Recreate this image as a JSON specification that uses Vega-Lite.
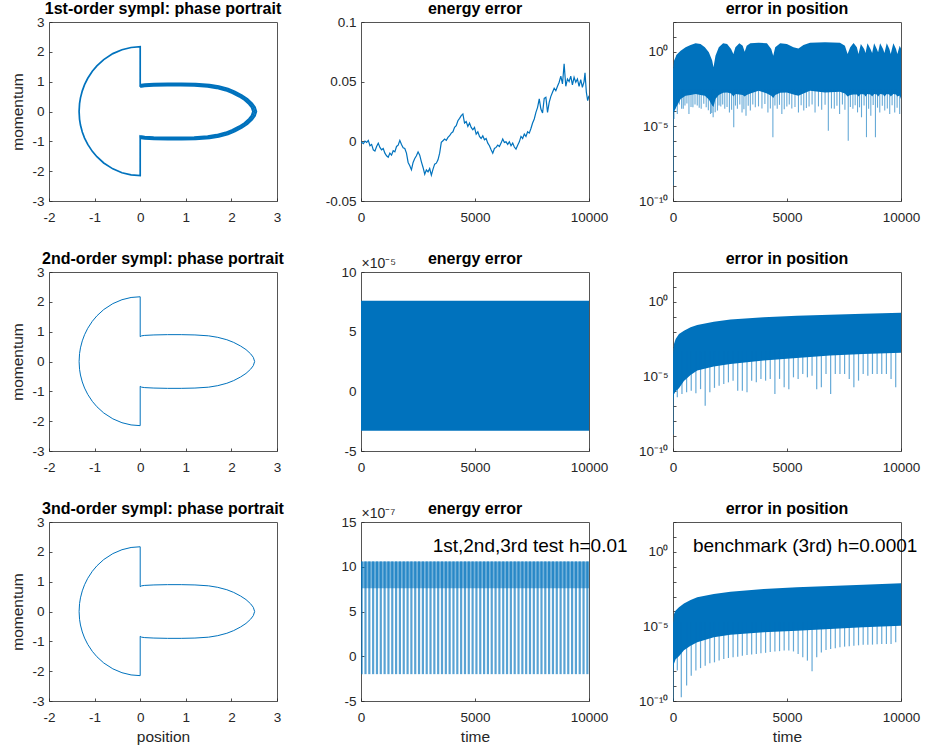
{
"$schema": "https://vega.github.io/schema/vega-lite/v6.json",
"background": "white",
"padding": {"left": 10, "top": 0, "right": 0, "bottom": 0},
"config": {
  "font": "Liberation Sans",
  "view": {"stroke": "#555555", "strokeWidth": 1},
  "axis": {"grid": false, "domain": false, "ticks": true, "tickSize": -3, "tickColor": "#262626", "tickWidth": 0.8,
           "labelColor": "#262626", "labelFontSize": 13.5, "labelFont": "Liberation Sans", "labelPadding": 8,
           "labelFlush": false, "labelOverlap": false, "labelBound": false,
           "titleColor": "#262626", "titleFontSize": 15.5, "titleFontWeight": "normal", "titleFont": "Liberation Sans", "titlePadding": 6},
  "axisX": {"labelPadding": 12},
  "title": {"fontSize": 16, "fontWeight": "bold", "color": "#000000", "offset": -2, "font": "Liberation Sans", "anchor": "middle"}
},
"datasets": {
  "orbit": [{"i":0,"q":0,"p":0.83},{"i":1,"q":0.03,"p":0.86},{"i":2,"q":0.1,"p":0.875},{"i":3,"q":0.3,"p":0.89},{"i":4,"q":0.6,"p":0.9},{"i":5,"q":0.9,"p":0.9},{"i":6,"q":1.2,"p":0.89},{"i":7,"q":1.5,"p":0.86},{"i":8,"q":1.7,"p":0.81},{"i":9,"q":1.9,"p":0.73},{"i":10,"q":2.05,"p":0.64},{"i":11,"q":2.2,"p":0.52},{"i":12,"q":2.32,"p":0.4},{"i":13,"q":2.42,"p":0.26},{"i":14,"q":2.48,"p":0.14},{"i":15,"q":2.51,"p":0},{"i":16,"q":2.48,"p":-0.14},{"i":17,"q":2.42,"p":-0.26},{"i":18,"q":2.32,"p":-0.4},{"i":19,"q":2.2,"p":-0.52},{"i":20,"q":2.05,"p":-0.64},{"i":21,"q":1.9,"p":-0.73},{"i":22,"q":1.7,"p":-0.81},{"i":23,"q":1.5,"p":-0.86},{"i":24,"q":1.2,"p":-0.89},{"i":25,"q":0.9,"p":-0.9},{"i":26,"q":0.6,"p":-0.9},{"i":27,"q":0.3,"p":-0.89},{"i":28,"q":0.1,"p":-0.875},{"i":29,"q":0.03,"p":-0.86},{"i":30,"q":0,"p":-0.83},{"i":31,"q":0,"p":-2.15},{"i":32,"q":-0.2,"p":-2.126},{"i":33,"q":-0.4,"p":-2.052},{"i":34,"q":-0.6,"p":-1.922},{"i":35,"q":-0.8,"p":-1.725},{"i":36,"q":-0.95,"p":-1.516},{"i":37,"q":-1.05,"p":-1.336},{"i":38,"q":-1.15,"p":-1.104},{"i":39,"q":-1.22,"p":-0.89},{"i":40,"q":-1.27,"p":-0.686},{"i":41,"q":-1.31,"p":-0.453},{"i":42,"q":-1.33,"p":-0.263},{"i":43,"q":-1.34,"p":0},{"i":44,"q":-1.33,"p":0.265},{"i":45,"q":-1.31,"p":0.457},{"i":46,"q":-1.27,"p":0.692},{"i":47,"q":-1.22,"p":0.898},{"i":48,"q":-1.15,"p":1.114},{"i":49,"q":-1.05,"p":1.348},{"i":50,"q":-0.95,"p":1.53},{"i":51,"q":-0.8,"p":1.741},{"i":52,"q":-0.6,"p":1.94},{"i":53,"q":-0.4,"p":2.071},{"i":54,"q":-0.2,"p":2.146},{"i":55,"q":0,"p":2.17},{"i":56,"q":0,"p":0.83}],
  "drift": [{"loop":"A","i":0,"q":0,"p":0.83},{"loop":"A","i":1,"q":0.03,"p":0.832},{"loop":"A","i":2,"q":0.099,"p":0.846},{"loop":"A","i":3,"q":0.296,"p":0.861},{"loop":"A","i":4,"q":0.592,"p":0.87},{"loop":"A","i":5,"q":0.887,"p":0.87},{"loop":"A","i":6,"q":1.183,"p":0.861},{"loop":"A","i":7,"q":1.479,"p":0.832},{"loop":"A","i":8,"q":1.676,"p":0.783},{"loop":"A","i":9,"q":1.873,"p":0.706},{"loop":"A","i":10,"q":2.021,"p":0.619},{"loop":"A","i":11,"q":2.169,"p":0.503},{"loop":"A","i":12,"q":2.288,"p":0.387},{"loop":"A","i":13,"q":2.386,"p":0.251},{"loop":"A","i":14,"q":2.445,"p":0.135},{"loop":"A","i":15,"q":2.475,"p":0},{"loop":"A","i":16,"q":2.445,"p":-0.135},{"loop":"A","i":17,"q":2.386,"p":-0.251},{"loop":"A","i":18,"q":2.288,"p":-0.387},{"loop":"A","i":19,"q":2.169,"p":-0.503},{"loop":"A","i":20,"q":2.021,"p":-0.619},{"loop":"A","i":21,"q":1.873,"p":-0.706},{"loop":"A","i":22,"q":1.676,"p":-0.783},{"loop":"A","i":23,"q":1.479,"p":-0.832},{"loop":"A","i":24,"q":1.183,"p":-0.861},{"loop":"A","i":25,"q":0.887,"p":-0.87},{"loop":"A","i":26,"q":0.592,"p":-0.87},{"loop":"A","i":27,"q":0.296,"p":-0.861},{"loop":"A","i":28,"q":0.099,"p":-0.846},{"loop":"A","i":29,"q":0.03,"p":-0.832},{"loop":"A","i":30,"q":0,"p":-0.83},
    {"loop":"C","i":0,"q":0,"p":0.83},{"loop":"C","i":1,"q":0.03,"p":0.898},{"loop":"C","i":2,"q":0.101,"p":0.914},{"loop":"C","i":3,"q":0.304,"p":0.929},{"loop":"C","i":4,"q":0.608,"p":0.94},{"loop":"C","i":5,"q":0.913,"p":0.94},{"loop":"C","i":6,"q":1.217,"p":0.929},{"loop":"C","i":7,"q":1.521,"p":0.898},{"loop":"C","i":8,"q":1.724,"p":0.846},{"loop":"C","i":9,"q":1.927,"p":0.762},{"loop":"C","i":10,"q":2.079,"p":0.668},{"loop":"C","i":11,"q":2.231,"p":0.543},{"loop":"C","i":12,"q":2.352,"p":0.418},{"loop":"C","i":13,"q":2.454,"p":0.271},{"loop":"C","i":14,"q":2.515,"p":0.146},{"loop":"C","i":15,"q":2.545,"p":0},{"loop":"C","i":16,"q":2.515,"p":-0.146},{"loop":"C","i":17,"q":2.454,"p":-0.271},{"loop":"C","i":18,"q":2.352,"p":-0.418},{"loop":"C","i":19,"q":2.231,"p":-0.543},{"loop":"C","i":20,"q":2.079,"p":-0.668},{"loop":"C","i":21,"q":1.927,"p":-0.762},{"loop":"C","i":22,"q":1.724,"p":-0.846},{"loop":"C","i":23,"q":1.521,"p":-0.898},{"loop":"C","i":24,"q":1.217,"p":-0.929},{"loop":"C","i":25,"q":0.913,"p":-0.94},{"loop":"C","i":26,"q":0.608,"p":-0.94},{"loop":"C","i":27,"q":0.304,"p":-0.929},{"loop":"C","i":28,"q":0.101,"p":-0.914},{"loop":"C","i":29,"q":0.03,"p":-0.898},{"loop":"C","i":30,"q":0,"p":-0.83}],
  "en1": [{"t":0,"e":-0.0004},{"t":102,"e":-0.002},{"t":175,"e":0.0002},{"t":247,"e":-0.0009},{"t":320,"e":0.0008},{"t":393,"e":-0.0037},{"t":466,"e":-0.0026},{"t":539,"e":-0.0071},{"t":611,"e":-0.0082},{"t":684,"e":-0.0043},{"t":757,"e":-0.0015},{"t":830,"e":-0.0051},{"t":902,"e":-0.0071},{"t":975,"e":-0.006},{"t":1048,"e":-0.0099},{"t":1121,"e":-0.0121},{"t":1194,"e":-0.0133},{"t":1266,"e":-0.0099},{"t":1339,"e":-0.0116},{"t":1412,"e":-0.0079},{"t":1485,"e":-0.0088},{"t":1558,"e":-0.0043},{"t":1630,"e":-0.0032},{"t":1703,"e":0.0008},{"t":1776,"e":-0.0026},{"t":1849,"e":-0.0054},{"t":1921,"e":-0.006},{"t":1994,"e":-0.0099},{"t":2067,"e":-0.0177},{"t":2140,"e":-0.0205},{"t":2212,"e":-0.0239},{"t":2285,"e":-0.0177},{"t":2358,"e":-0.0144},{"t":2431,"e":-0.0121},{"t":2504,"e":-0.0088},{"t":2576,"e":-0.0116},{"t":2649,"e":-0.0172},{"t":2722,"e":-0.0219},{"t":2795,"e":-0.0275},{"t":2867,"e":-0.0239},{"t":2940,"e":-0.0256},{"t":3013,"e":-0.0228},{"t":3086,"e":-0.0284},{"t":3159,"e":-0.0233},{"t":3231,"e":-0.0191},{"t":3304,"e":-0.0183},{"t":3377,"e":-0.0155},{"t":3450,"e":-0.0099},{"t":3522,"e":-0.0009},{"t":3595,"e":0.0005},{"t":3668,"e":0.0019},{"t":3741,"e":0.0008},{"t":3813,"e":0.0033},{"t":3886,"e":0.0047},{"t":3959,"e":0.0069},{"t":4032,"e":0.008},{"t":4104,"e":0.0117},{"t":4177,"e":0.0131},{"t":4250,"e":0.0173},{"t":4323,"e":0.0193},{"t":4396,"e":0.0215},{"t":4469,"e":0.0229},{"t":4541,"e":0.0153},{"t":4614,"e":0.0165},{"t":4687,"e":0.0125},{"t":4760,"e":0.0153},{"t":4833,"e":0.0117},{"t":4905,"e":0.0097},{"t":4978,"e":0.0117},{"t":5051,"e":0.0061},{"t":5124,"e":0.008},{"t":5197,"e":0.0041},{"t":5269,"e":0.0024},{"t":5342,"e":0.0047},{"t":5415,"e":0.0013},{"t":5488,"e":0.0024},{"t":5561,"e":-0.0015},{"t":5633,"e":-0.0037},{"t":5706,"e":-0.0071},{"t":5779,"e":-0.0099},{"t":5852,"e":-0.006},{"t":5925,"e":-0.0051},{"t":5997,"e":-0.0032},{"t":6070,"e":-0.0043},{"t":6143,"e":-0.0015},{"t":6216,"e":0.0019},{"t":6289,"e":-0.0009},{"t":6361,"e":-0.0004},{"t":6434,"e":-0.0026},{"t":6507,"e":-0.0004},{"t":6580,"e":-0.0037},{"t":6653,"e":-0.0015},{"t":6725,"e":-0.0048},{"t":6798,"e":-0.0065},{"t":6871,"e":-0.0032},{"t":6944,"e":-0.0004},{"t":7017,"e":0.0041},{"t":7089,"e":0.0024},{"t":7162,"e":0.0061},{"t":7235,"e":0.0041},{"t":7308,"e":0.008},{"t":7381,"e":0.0069},{"t":7453,"e":0.0108},{"t":7526,"e":0.0153},{"t":7599,"e":0.0187},{"t":7672,"e":0.0243},{"t":7745,"e":0.0285},{"t":7818,"e":0.0355},{"t":7890,"e":0.0271},{"t":7963,"e":0.0237},{"t":8036,"e":0.036},{"t":8109,"e":0.0369},{"t":8181,"e":0.0243},{"t":8254,"e":0.0327},{"t":8327,"e":0.0377},{"t":8400,"e":0.0411},{"t":8473,"e":0.0445},{"t":8545,"e":0.0425},{"t":8618,"e":0.0461},{"t":8691,"e":0.0495},{"t":8764,"e":0.0546},{"t":8837,"e":0.0481},{"t":8909,"e":0.0649},{"t":8982,"e":0.0461},{"t":9055,"e":0.0523},{"t":9128,"e":0.0501},{"t":9200,"e":0.0546},{"t":9273,"e":0.0473},{"t":9346,"e":0.0537},{"t":9419,"e":0.0495},{"t":9492,"e":0.0523},{"t":9564,"e":0.0461},{"t":9637,"e":0.0517},{"t":9710,"e":0.0453},{"t":9783,"e":0.0501},{"t":9825,"e":0.0574},{"t":9884,"e":0.0411},{"t":9942,"e":0.0341},{"t":10000,"e":0.0383}],
  "err1band": [{"t":0,"hi":0.055,"lo":8.7e-5},{"t":44,"hi":0.25,"lo":1e-4},{"t":116,"hi":0.45,"lo":1.5e-4},{"t":146,"hi":0.62,"lo":2e-4},{"t":335,"hi":1.2,"lo":6.9e-4},{"t":553,"hi":2.0,"lo":1.15e-3},{"t":771,"hi":2.9,"lo":1.26e-3},{"t":990,"hi":3.7,"lo":1.5e-3},{"t":1208,"hi":3.3,"lo":1.26e-3},{"t":1397,"hi":2.0,"lo":1.15e-3},{"t":1572,"hi":0.93,"lo":6.3e-4},{"t":1718,"hi":0.26,"lo":2.5e-4},{"t":1776,"hi":0.091,"lo":2e-4},{"t":1863,"hi":0.55,"lo":6.9e-4},{"t":2009,"hi":2.0,"lo":1.26e-3},{"t":2198,"hi":3.7,"lo":1.8e-3},{"t":2373,"hi":3.3,"lo":1.9e-3},{"t":2547,"hi":1.55,"lo":1.6e-3},{"t":2649,"hi":0.71,"lo":1e-3},{"t":2737,"hi":2.0,"lo":1.5e-3},{"t":2911,"hi":3.7,"lo":1.4e-3},{"t":3057,"hi":2.6,"lo":1.26e-3},{"t":3144,"hi":1.0,"lo":1e-3},{"t":3232,"hi":2.6,"lo":1.26e-3},{"t":3392,"hi":3.7,"lo":1.6e-3},{"t":3756,"hi":4.1,"lo":2.5e-3},{"t":4120,"hi":3.7,"lo":1.6e-3},{"t":4309,"hi":1.55,"lo":1.15e-3},{"t":4396,"hi":0.55,"lo":7.9e-4},{"t":4483,"hi":2.0,"lo":1.26e-3},{"t":4702,"hi":3.7,"lo":1.8e-3},{"t":4993,"hi":3.3,"lo":1.9e-3},{"t":5284,"hi":2.0,"lo":1.4e-3},{"t":5502,"hi":1.7,"lo":1.15e-3},{"t":5721,"hi":2.9,"lo":1.6e-3},{"t":6012,"hi":4.1,"lo":2.5e-3},{"t":6667,"hi":4.4,"lo":1.9e-3},{"t":7322,"hi":4.1,"lo":2.1e-3},{"t":7540,"hi":2.6,"lo":1.6e-3},{"t":7657,"hi":0.71,"lo":1e-3},{"t":7773,"hi":2.0,"lo":1.26e-3},{"t":7919,"hi":3.9,"lo":1.4e-3},{"t":8064,"hi":2.0,"lo":1.4e-3},{"t":8137,"hi":0.71,"lo":1e-3},{"t":8239,"hi":3.3,"lo":1.5e-3},{"t":8385,"hi":1.55,"lo":1.4e-3},{"t":8443,"hi":0.83,"lo":1e-3},{"t":8530,"hi":3.7,"lo":1.5e-3},{"t":8661,"hi":1.55,"lo":1.4e-3},{"t":8734,"hi":0.83,"lo":1e-3},{"t":8821,"hi":3.7,"lo":1.5e-3},{"t":8938,"hi":1.55,"lo":1.4e-3},{"t":8996,"hi":0.93,"lo":1e-3},{"t":9083,"hi":3.7,"lo":1.5e-3},{"t":9214,"hi":1.55,"lo":1.4e-3},{"t":9273,"hi":0.83,"lo":1e-3},{"t":9375,"hi":3.7,"lo":1.5e-3},{"t":9491,"hi":1.55,"lo":1.4e-3},{"t":9549,"hi":0.71,"lo":1e-3},{"t":9665,"hi":3.7,"lo":1.5e-3},{"t":9782,"hi":1.55,"lo":1.4e-3},{"t":9840,"hi":0.71,"lo":1e-3},{"t":9942,"hi":2.6,"lo":1.2e-3},{"t":10000,"hi":1.7,"lo":6.9e-4}],
  "err1spk": [{"t":10,"tip":1.1e-9},{"t":44,"tip":3.2e-5},{"t":110,"tip":2e-4},{"t":189,"tip":6.8e-5},{"t":280,"tip":3e-4},{"t":378,"tip":1.5e-4},{"t":450,"tip":1.5e-4},{"t":524,"tip":2.5e-4},{"t":610,"tip":3.5e-4},{"t":699,"tip":6.8e-5},{"t":790,"tip":2e-4},{"t":873,"tip":1.9e-4},{"t":965,"tip":3e-4},{"t":1063,"tip":2.5e-4},{"t":1150,"tip":1.8e-4},{"t":1237,"tip":1.5e-4},{"t":1350,"tip":3.3e-4},{"t":1456,"tip":1.9e-4},{"t":1550,"tip":1.2e-4},{"t":1645,"tip":6.8e-5},{"t":1700,"tip":8e-5},{"t":1761,"tip":4.1e-5},{"t":1850,"tip":9e-5},{"t":1951,"tip":1.15e-4},{"t":2020,"tip":2.5e-4},{"t":2096,"tip":2.2e-4},{"t":2180,"tip":3e-4},{"t":2271,"tip":1.5e-4},{"t":2370,"tip":2e-4},{"t":2475,"tip":8.7e-5},{"t":2570,"tip":1.3e-4},{"t":2664,"tip":8.7e-6},{"t":2740,"tip":2.5e-4},{"t":2824,"tip":1.5e-4},{"t":2930,"tip":3e-4},{"t":3028,"tip":8.7e-5},{"t":3110,"tip":1.4e-4},{"t":3202,"tip":5.2e-5},{"t":3300,"tip":2.4e-4},{"t":3392,"tip":1.15e-4},{"t":3500,"tip":3e-4},{"t":3610,"tip":1.9e-4},{"t":3750,"tip":2.2e-4},{"t":3901,"tip":1.6e-4},{"t":4030,"tip":3.2e-4},{"t":4163,"tip":8.7e-5},{"t":4270,"tip":1.6e-4},{"t":4381,"tip":1.9e-6},{"t":4470,"tip":2.5e-4},{"t":4571,"tip":1.5e-4},{"t":4670,"tip":2.8e-4},{"t":4774,"tip":6.8e-5},{"t":4880,"tip":1.4e-4},{"t":4993,"tip":2.2e-4},{"t":5100,"tip":3e-4},{"t":5211,"tip":1.6e-4},{"t":5350,"tip":2e-4},{"t":5502,"tip":8.7e-5},{"t":5620,"tip":2.6e-4},{"t":5735,"tip":1.15e-4},{"t":5850,"tip":1.7e-4},{"t":5968,"tip":2.2e-4},{"t":6100,"tip":3e-4},{"t":6230,"tip":8.7e-5},{"t":6380,"tip":2.2e-4},{"t":6521,"tip":1.3e-4},{"t":6670,"tip":2.8e-4},{"t":6813,"tip":5.2e-6},{"t":6950,"tip":1.6e-4},{"t":7075,"tip":1.5e-4},{"t":7190,"tip":2.4e-4},{"t":7307,"tip":6.8e-5},{"t":7430,"tip":3e-4},{"t":7540,"tip":1.3e-4},{"t":7686,"tip":1.1e-6},{"t":7780,"tip":2e-4},{"t":7890,"tip":1.5e-4},{"t":7990,"tip":2.6e-4},{"t":8093,"tip":8.7e-5},{"t":8180,"tip":1.9e-4},{"t":8268,"tip":4.1e-5},{"t":8380,"tip":2.5e-4},{"t":8486,"tip":1.9e-6},{"t":8580,"tip":1.5e-4},{"t":8676,"tip":5.2e-5},{"t":8780,"tip":2.7e-4},{"t":8879,"tip":1.9e-6},{"t":8970,"tip":1.8e-4},{"t":9069,"tip":8.7e-5},{"t":9180,"tip":2.4e-4},{"t":9287,"tip":1.15e-4},{"t":9400,"tip":1.6e-4},{"t":9505,"tip":6.8e-5},{"t":9610,"tip":2.6e-4},{"t":9724,"tip":8.7e-5},{"t":9830,"tip":1.8e-4},{"t":9942,"tip":6.8e-5}],
  "en2band": [{"t":0,"lo":-3.3e-5,"hi":7.6e-5},{"t":10000,"lo":-3.3e-5,"hi":7.6e-5}],
  "err2band": [{"t":0,"hi":1.9e-4,"lo":1.6e-7},{"t":15,"hi":6.3e-4,"lo":3.2e-7},{"t":44,"hi":1.5e-3,"lo":6.3e-7},{"t":116,"hi":3.2e-3,"lo":1e-6},{"t":262,"hi":6.9e-3,"lo":1.6e-6},{"t":480,"hi":0.0117,"lo":5e-6},{"t":771,"hi":0.0195,"lo":1.26e-5},{"t":1063,"hi":0.028,"lo":2.5e-5},{"t":1790,"hi":0.047,"lo":4.6e-5},{"t":2518,"hi":0.065,"lo":6.8e-5},{"t":3974,"hi":0.091,"lo":1.15e-4},{"t":5430,"hi":0.117,"lo":1.7e-4},{"t":6885,"hi":0.138,"lo":2.5e-4},{"t":8341,"hi":0.162,"lo":3.2e-4},{"t":10000,"hi":0.186,"lo":3.9e-4}],
  "err2spk": [{"t":5,"tip":1.3e-9},{"t":189,"tip":4e-7},{"t":393,"tip":6.6e-7},{"t":597,"tip":8.7e-7},{"t":800,"tip":1.1e-6},{"t":1004,"tip":7.4e-7},{"t":1208,"tip":1.4e-6},{"t":1412,"tip":1.1e-7},{"t":1616,"tip":8.7e-7},{"t":1819,"tip":1.7e-6},{"t":2023,"tip":2.4e-6},{"t":2227,"tip":3.1e-6},{"t":2431,"tip":4e-6},{"t":2635,"tip":5.2e-6},{"t":2838,"tip":1.1e-6},{"t":3042,"tip":1.1e-6},{"t":3246,"tip":8.7e-7},{"t":3450,"tip":5.2e-6},{"t":3654,"tip":4e-6},{"t":3857,"tip":6.8e-6},{"t":4061,"tip":5.2e-6},{"t":4265,"tip":6.8e-6},{"t":4469,"tip":6.6e-7},{"t":4673,"tip":6.8e-6},{"t":4876,"tip":1.9e-6},{"t":5080,"tip":1.4e-6},{"t":5284,"tip":8.7e-6},{"t":5488,"tip":6.8e-6},{"t":5692,"tip":1.45e-5},{"t":5895,"tip":8.7e-6},{"t":6099,"tip":1.1e-5},{"t":6303,"tip":1.4e-6},{"t":6507,"tip":1.9e-6},{"t":6711,"tip":1.45e-5},{"t":6914,"tip":6.6e-7},{"t":7118,"tip":1.45e-5},{"t":7322,"tip":1.45e-5},{"t":7526,"tip":1.45e-5},{"t":7730,"tip":6.8e-6},{"t":7933,"tip":1.9e-6},{"t":8137,"tip":5.2e-6},{"t":8341,"tip":1.45e-5},{"t":8545,"tip":1.1e-5},{"t":8749,"tip":1.45e-5},{"t":8952,"tip":1.45e-5},{"t":9156,"tip":1.45e-5},{"t":9360,"tip":1.45e-5},{"t":9564,"tip":6.8e-6},{"t":9768,"tip":1.9e-6}],
  "en3band": [{"t":0,"lo":7.6e-7,"hi":1.06e-6},{"t":10000,"lo":7.6e-7,"hi":1.06e-6}],
  "en3dips": [{"t":29,"lo":-2e-7},{"t":197,"lo":-2e-7},{"t":365,"lo":-2e-7},{"t":532,"lo":-2e-7},{"t":700,"lo":-2e-7},{"t":868,"lo":-2e-7},{"t":1036,"lo":-2e-7},{"t":1204,"lo":-2e-7},{"t":1371,"lo":-2e-7},{"t":1539,"lo":-2e-7},{"t":1707,"lo":-2e-7},{"t":1875,"lo":-2e-7},{"t":2043,"lo":-2e-7},{"t":2210,"lo":-2e-7},{"t":2378,"lo":-2e-7},{"t":2546,"lo":-2e-7},{"t":2714,"lo":-2e-7},{"t":2882,"lo":-2e-7},{"t":3049,"lo":-2e-7},{"t":3217,"lo":-2e-7},{"t":3385,"lo":-2e-7},{"t":3553,"lo":-2e-7},{"t":3721,"lo":-2e-7},{"t":3888,"lo":-2e-7},{"t":4056,"lo":-2e-7},{"t":4224,"lo":-2e-7},{"t":4392,"lo":-2e-7},{"t":4560,"lo":-2e-7},{"t":4727,"lo":-2e-7},{"t":4895,"lo":-2e-7},{"t":5063,"lo":-2e-7},{"t":5231,"lo":-2e-7},{"t":5399,"lo":-2e-7},{"t":5566,"lo":-2e-7},{"t":5734,"lo":-2e-7},{"t":5902,"lo":-2e-7},{"t":6070,"lo":-2e-7},{"t":6238,"lo":-2e-7},{"t":6405,"lo":-2e-7},{"t":6573,"lo":-2e-7},{"t":6741,"lo":-2e-7},{"t":6909,"lo":-2e-7},{"t":7077,"lo":-2e-7},{"t":7244,"lo":-2e-7},{"t":7412,"lo":-2e-7},{"t":7580,"lo":-2e-7},{"t":7748,"lo":-2e-7},{"t":7916,"lo":-2e-7},{"t":8083,"lo":-2e-7},{"t":8251,"lo":-2e-7},{"t":8419,"lo":-2e-7},{"t":8587,"lo":-2e-7},{"t":8755,"lo":-2e-7},{"t":8922,"lo":-2e-7},{"t":9090,"lo":-2e-7},{"t":9258,"lo":-2e-7},{"t":9426,"lo":-2e-7},{"t":9594,"lo":-2e-7},{"t":9761,"lo":-2e-7},{"t":9929,"lo":-2e-7}],
  "err3band": [{"t":0,"hi":1.45e-5,"lo":1e-8},{"t":44,"hi":6.8e-5,"lo":3.2e-8},{"t":116,"hi":1.15e-4,"lo":6.3e-8},{"t":262,"hi":1.9e-4,"lo":1e-7},{"t":480,"hi":3.5e-4,"lo":2.5e-7},{"t":771,"hi":5.9e-4,"lo":5e-7},{"t":1063,"hi":8.9e-4,"lo":8.7e-7},{"t":1790,"hi":1.5e-3,"lo":1.9e-6},{"t":2518,"hi":2.1e-3,"lo":2.8e-6},{"t":3974,"hi":3.2e-3,"lo":4e-6},{"t":5430,"hi":4.2e-3,"lo":5.2e-6},{"t":6885,"hi":5.1e-3,"lo":6.8e-6},{"t":8341,"hi":6.3e-3,"lo":8.7e-6},{"t":10000,"hi":7.8e-3,"lo":1.1e-5}],
  "err3spk": [{"t":5,"tip":1e-10},{"t":189,"tip":1.1e-8},{"t":364,"tip":1.8e-10},{"t":597,"tip":1.1e-9},{"t":800,"tip":5e-9},{"t":1004,"tip":1.1e-8},{"t":1208,"tip":1.6e-8},{"t":1412,"tip":2.3e-8},{"t":1616,"tip":3.4e-8},{"t":1819,"tip":3.9e-8},{"t":2023,"tip":5.1e-8},{"t":2227,"tip":6.6e-8},{"t":2431,"tip":7.6e-8},{"t":2635,"tip":8.5e-8},{"t":2838,"tip":9.3e-8},{"t":3042,"tip":1.1e-7},{"t":3246,"tip":1.2e-7},{"t":3450,"tip":1.3e-7},{"t":3654,"tip":1.4e-7},{"t":3857,"tip":1.6e-7},{"t":4061,"tip":1.7e-7},{"t":4265,"tip":1.9e-7},{"t":4469,"tip":2.1e-7},{"t":4673,"tip":2.2e-7},{"t":4876,"tip":2.4e-7},{"t":5080,"tip":2.4e-7},{"t":5284,"tip":2.1e-7},{"t":5488,"tip":1.4e-7},{"t":5692,"tip":8.5e-8},{"t":5895,"tip":5.1e-8},{"t":6099,"tip":9.8e-9},{"t":6303,"tip":8.5e-8},{"t":6507,"tip":1.8e-7},{"t":6711,"tip":2.6e-7},{"t":6914,"tip":3.1e-7},{"t":7118,"tip":3.5e-7},{"t":7322,"tip":4e-7},{"t":7526,"tip":4.4e-7},{"t":7730,"tip":4.7e-7},{"t":7933,"tip":5.1e-7},{"t":8137,"tip":5.4e-7},{"t":8341,"tip":5.8e-7},{"t":8545,"tip":6e-7},{"t":8749,"tip":6e-7},{"t":8952,"tip":6.3e-7},{"t":9156,"tip":6.6e-7},{"t":9360,"tip":6.6e-7},{"t":9564,"tip":6.6e-7},{"t":9768,"tip":8.7e-7}]
},
"columns": 3,
"spacing": {"row": 71, "column": 84},
"bounds": "flush",
"concat": [
  {
    "title": "1st-order sympl: phase portrait",
    "width": 228, "height": 179,
    "encoding": {
      "x": {"field": "q", "type": "quantitative", "title": null, "scale": {"domain": [-2, 3], "nice": false, "zero": false}, "axis": {"values": [-2, -1, 0, 1, 2, 3], "labelExpr": "'' + datum.value"}},
      "y": {"field": "p", "type": "quantitative", "title": "momentum", "scale": {"domain": [-3, 3], "nice": false, "zero": false}, "axis": {"values": [-3, -2, -1, 0, 1, 2, 3], "labelExpr": "'' + datum.value"}},
      "order": {"field": "i", "type": "quantitative"}
    },
    "layer": [
      {"data": {"name": "drift"}, "mark": {"type": "line", "color": "#0072BD", "strokeWidth": 2, "clip": true}, "encoding": {"detail": {"field": "loop"}}},
      {"data": {"name": "orbit"}, "mark": {"type": "line", "color": "#0072BD", "strokeWidth": 1.7, "clip": true}}
    ]
  },
  {
    "title": "energy error",
    "width": 228, "height": 179,
    "data": {"name": "en1"},
    "mark": {"type": "line", "color": "#0072BD", "strokeWidth": 1.2, "clip": true},
    "encoding": {
      "x": {"field": "t", "type": "quantitative", "title": null, "scale": {"domain": [0, 10000], "nice": false, "zero": false}, "axis": {"values": [0, 5000, 10000], "labelExpr": "'' + datum.value"}},
      "y": {"field": "e", "type": "quantitative", "title": null, "scale": {"domain": [-0.05, 0.1], "nice": false, "zero": false}, "axis": {"values": [-0.05, 0, 0.05, 0.1], "labelExpr": "'' + datum.value"}}
    }
  },
  {
    "title": "error in position",
    "width": 228, "height": 179,
    "encoding": {
      "x": {"field": "t", "type": "quantitative", "title": null, "scale": {"domain": [0, 10000], "nice": false, "zero": false}, "axis": {"values": [0, 5000, 10000], "labelExpr": "'' + datum.value"}}
    },
    "layer": [
      {"data": {"name": "err1band"}, "mark": {"type": "area", "color": "#0072BD", "opacity": 1, "clip": true},
       "encoding": {"y": {"field": "hi", "type": "quantitative", "title": null, "scale": {"type": "log", "domain": [1e-10, 100], "nice": false}, "axis": {"values": [1e-10, 1e-9, 1e-8, 1e-7, 1e-6, 1e-5, 1e-4, 1e-3, 1e-2, 1e-1, 1, 10, 100], "labelExpr": "round(log(datum.value)/LN10) == 0 ? '10⁰' : round(log(datum.value)/LN10) == -5 ? '10⁻⁵' : round(log(datum.value)/LN10) == -10 ? '10⁻¹⁰' : ''"}}, "y2": {"field": "lo"}}},
      {"data": {"name": "err1spk"}, "mark": {"type": "rule", "color": "#0072BD", "strokeWidth": 1.1, "opacity": 0.6, "clip": true},
       "encoding": {"y": {"field": "tip", "type": "quantitative", "title": null}, "y2": {"datum": 0.003}}}
    ]
  },
  {
    "title": "2nd-order sympl: phase portrait",
    "width": 228, "height": 179,
    "data": {"name": "orbit"},
    "mark": {"type": "line", "color": "#0072BD", "strokeWidth": 1, "clip": true},
    "encoding": {
      "x": {"field": "q", "type": "quantitative", "title": null, "scale": {"domain": [-2, 3], "nice": false, "zero": false}, "axis": {"values": [-2, -1, 0, 1, 2, 3], "labelExpr": "'' + datum.value"}},
      "y": {"field": "p", "type": "quantitative", "title": "momentum", "scale": {"domain": [-3, 3], "nice": false, "zero": false}, "axis": {"values": [-3, -2, -1, 0, 1, 2, 3], "labelExpr": "'' + datum.value"}},
      "order": {"field": "i", "type": "quantitative"}
    }
  },
  {
    "title": {"text": "energy error", "offset": -11},
    "width": 228, "height": 179,
    "data": {"name": "en2band"},
    "mark": {"type": "area", "color": "#0072BD", "clip": true},
    "encoding": {
      "x": {"field": "t", "type": "quantitative", "title": null, "scale": {"domain": [0, 10000], "nice": false, "zero": false}, "axis": {"values": [0, 5000, 10000], "labelExpr": "'' + datum.value"}},
      "y": {"field": "hi", "type": "quantitative", "scale": {"domain": [-5e-5, 1e-4], "nice": false, "zero": false}, "axis": {"values": [-5e-5, 0, 5e-5, 1e-4], "labelExpr": "'' + round(datum.value*1e5)", "title": "×10⁻⁵", "titleAngle": 0, "titleAlign": "left", "titleBaseline": "middle", "titleX": 0, "titleY": -9, "titleFontSize": 14}},
      "y2": {"field": "lo"}
    }
  },
  {
    "title": "error in position",
    "width": 228, "height": 179,
    "encoding": {
      "x": {"field": "t", "type": "quantitative", "title": null, "scale": {"domain": [0, 10000], "nice": false, "zero": false}, "axis": {"values": [0, 5000, 10000], "labelExpr": "'' + datum.value"}}
    },
    "layer": [
      {"data": {"name": "err2band"}, "mark": {"type": "area", "color": "#0072BD", "clip": true},
       "encoding": {"y": {"field": "hi", "type": "quantitative", "title": null, "scale": {"type": "log", "domain": [1e-10, 100], "nice": false}, "axis": {"values": [1e-10, 1e-9, 1e-8, 1e-7, 1e-6, 1e-5, 1e-4, 1e-3, 1e-2, 1e-1, 1, 10, 100], "labelExpr": "round(log(datum.value)/LN10) == 0 ? '10⁰' : round(log(datum.value)/LN10) == -5 ? '10⁻⁵' : round(log(datum.value)/LN10) == -10 ? '10⁻¹⁰' : ''"}}, "y2": {"field": "lo"}}},
      {"data": {"name": "err2spk"}, "mark": {"type": "rule", "color": "#0072BD", "strokeWidth": 1.2, "opacity": 0.6, "clip": true},
       "encoding": {"y": {"field": "tip", "type": "quantitative", "title": null}, "y2": {"datum": 0.0005}}}
    ]
  },
  {
    "title": "3nd-order sympl: phase portrait",
    "width": 228, "height": 179,
    "data": {"name": "orbit"},
    "mark": {"type": "line", "color": "#0072BD", "strokeWidth": 1, "clip": true},
    "encoding": {
      "x": {"field": "q", "type": "quantitative", "title": "position", "scale": {"domain": [-2, 3], "nice": false, "zero": false}, "axis": {"values": [-2, -1, 0, 1, 2, 3], "labelExpr": "'' + datum.value"}},
      "y": {"field": "p", "type": "quantitative", "title": "momentum", "scale": {"domain": [-3, 3], "nice": false, "zero": false}, "axis": {"values": [-3, -2, -1, 0, 1, 2, 3], "labelExpr": "'' + datum.value"}},
      "order": {"field": "i", "type": "quantitative"}
    }
  },
  {
    "title": {"text": "energy error", "offset": -11},
    "width": 228, "height": 179,
    "encoding": {
      "x": {"field": "t", "type": "quantitative", "title": "time", "scale": {"domain": [0, 10000], "nice": false, "zero": false}, "axis": {"values": [0, 5000, 10000], "labelExpr": "'' + datum.value"}}
    },
    "layer": [
      {"data": {"name": "en3band"}, "mark": {"type": "area", "color": "#0072BD", "opacity": 0.55, "clip": true},
       "encoding": {"y": {"field": "hi", "type": "quantitative", "scale": {"domain": [-5e-7, 1.5e-6], "nice": false, "zero": false}, "axis": {"values": [-5e-7, 0, 5e-7, 1e-6, 1.5e-6], "labelExpr": "'' + round(datum.value*1e7)", "title": "×10⁻⁷", "titleAngle": 0, "titleAlign": "left", "titleBaseline": "middle", "titleX": 0, "titleY": -9, "titleFontSize": 14}}, "y2": {"field": "lo"}}},
      {"data": {"name": "en3dips"}, "mark": {"type": "rule", "color": "#0072BD", "strokeWidth": 2.2, "opacity": 0.65, "clip": true},
       "encoding": {"y": {"field": "lo", "type": "quantitative"}, "y2": {"datum": 1.06e-6}}},
      {"data": {"values": [{"t": 3144, "v": 1.235e-6, "label": "1st,2nd,3rd test h=0.01"}]}, "mark": {"type": "text", "align": "left", "baseline": "middle", "fontSize": 19, "color": "#000000", "font": "Liberation Sans"},
       "encoding": {"y": {"field": "v", "type": "quantitative"}, "text": {"field": "label"}}}
    ]
  },
  {
    "title": "error in position",
    "width": 228, "height": 179,
    "encoding": {
      "x": {"field": "t", "type": "quantitative", "title": "time", "scale": {"domain": [0, 10000], "nice": false, "zero": false}, "axis": {"values": [0, 5000, 10000], "labelExpr": "'' + datum.value"}}
    },
    "layer": [
      {"data": {"name": "err3band"}, "mark": {"type": "area", "color": "#0072BD", "clip": true},
       "encoding": {"y": {"field": "hi", "type": "quantitative", "title": null, "scale": {"type": "log", "domain": [1e-10, 100], "nice": false}, "axis": {"values": [1e-10, 1e-9, 1e-8, 1e-7, 1e-6, 1e-5, 1e-4, 1e-3, 1e-2, 1e-1, 1, 10, 100], "labelExpr": "round(log(datum.value)/LN10) == 0 ? '10⁰' : round(log(datum.value)/LN10) == -5 ? '10⁻⁵' : round(log(datum.value)/LN10) == -10 ? '10⁻¹⁰' : ''"}}, "y2": {"field": "lo"}}},
      {"data": {"name": "err3spk"}, "mark": {"type": "rule", "color": "#0072BD", "strokeWidth": 1.2, "opacity": 0.6, "clip": true},
       "encoding": {"y": {"field": "tip", "type": "quantitative", "title": null}, "y2": {"datum": 2e-5}}},
      {"data": {"values": [{"t": 873, "v": 2.6, "label": "benchmark (3rd) h=0.0001"}]}, "mark": {"type": "text", "align": "left", "baseline": "middle", "fontSize": 19, "color": "#000000", "font": "Liberation Sans"},
       "encoding": {"y": {"field": "v", "type": "quantitative", "title": null}, "text": {"field": "label"}}}
    ]
  }
]
}
